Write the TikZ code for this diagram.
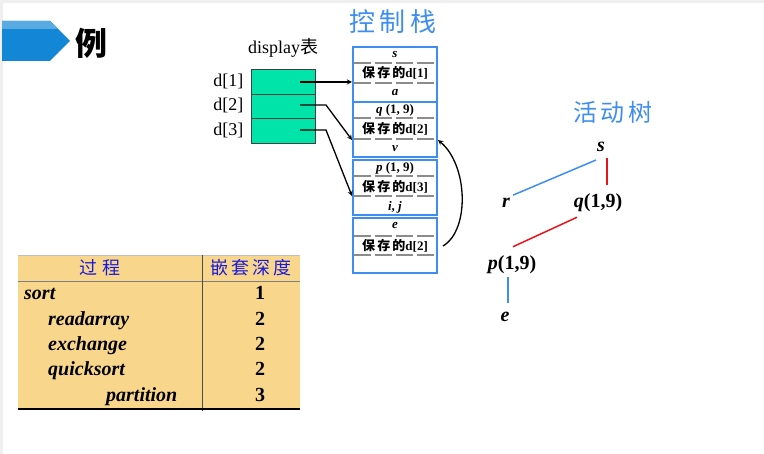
\documentclass[tikz,border=0pt]{standalone}
\usepackage{fontspec}
\setmainfont{Liberation Serif}
\newfontfamily\cjk{Noto Sans CJK SC}
\definecolor{pagegray}{HTML}{EFEFEF}
\definecolor{bannerblue}{HTML}{1387D6}
\definecolor{bannerlight}{HTML}{5AAAE2}
\definecolor{cellgreen}{HTML}{00E3A9}
\definecolor{stackblue}{HTML}{3D8EF0}
\definecolor{dashgray}{HTML}{8C8C8C}
\definecolor{treered}{HTML}{E8141B}
\definecolor{tableyellow}{HTML}{F8D78C}
\definecolor{headblue}{HTML}{1A1ADC}
\newcommand{\saved}[1]{{\cjk\bfseries 保\,存\,的}\textbf{d[#1]}}

\begin{document}
\begin{tikzpicture}[x=1pt,y=-1pt,
    cell/.style={draw=black!75,fill=cellgreen,minimum width=64,minimum height=24.5,inner sep=0},
    frame/.style={draw=stackblue,line width=2pt,minimum width=84,minimum height=55,inner sep=0},
    slot/.style={font=\fontsize{13}{15}\selectfont\bfseries,inner sep=0},
    sep/.style={dashgray,line width=1.6pt,dash pattern=on 17pt off 4pt},
    tree/.style={font=\fontsize{20}{22}\selectfont\bfseries,inner sep=0},
    row/.style={font=\fontsize{20}{22}\selectfont\bfseries\itshape,anchor=base west,inner sep=0},
    num/.style={font=\fontsize{20}{22}\selectfont\bfseries,anchor=base,inner sep=0},
    ptr/.style={line width=1.3pt,-stealth}]
\useasboundingbox (0,0) rectangle (764,454);
\fill[white] (0,0) rectangle (764,454);
\fill[pagegray] (0,0) rectangle (764,3);
\fill[pagegray] (0,3) rectangle (3,454);

% title banner
\fill[bannerblue] (2,21) -- (50,21) -- (70,41) -- (50,61) -- (2,61) -- cycle;
\fill[bannerlight] (2,21) -- (50,21) -- (58,29) -- (2,29) -- cycle;
\node (lizi) at (91,43) {\cjk\bfseries\fontsize{32}{34}\selectfont 例};

% display table
\node (disp) at (283,48) {\fontsize{18}{20}\selectfont display{\cjk 表}};
\node[cell] (c1) at (283,81.5) {};
\node[cell] (c2) at (283,106) {};
\node[cell] (c3) at (283,130.5) {};
\node[anchor=east] (d1) at (247,81) {\fontsize{18}{20}\selectfont d[1]};
\node[anchor=east] (d2) at (247,105) {\fontsize{18}{20}\selectfont d[2]};
\node[anchor=east] (d3) at (247,130) {\fontsize{18}{20}\selectfont d[3]};
\coordinate (a1) at (300,82);
\coordinate (a2) at (300,105);
\coordinate (b2) at (326,105);
\coordinate (a3) at (300,130);
\coordinate (b3) at (326,130);

% control stack
\node[text=stackblue] (kzz) at (393,22) {\cjk\fontsize{26}{28}\selectfont 控\,制\,栈};
\node[frame] (f1) at (395,74.5) {};
\node[frame] (f2) at (395,130) {};
\node[frame] (f3) at (395,187.5) {};
\node[frame] (f4) at (395,246) {};
\draw[sep] (354,63) -- (436,63);
\draw[sep] (354,83) -- (436,83);
\draw[sep] (354,118) -- (436,118);
\draw[sep] (354,139) -- (436,139);
\draw[sep] (354,176) -- (436,176);
\draw[sep] (354,196) -- (436,196);
\draw[sep] (354,236) -- (436,236);
\draw[sep] (354,255) -- (436,255);
\node[slot] (s1) at (395,55) {\textit{s}};
\node[slot] (s2) at (395,73) {\saved{1}};
\node[slot] (s3) at (395,93) {\textit{a}};
\node[slot] (q1) at (395,110) {\textit{q} (1, 9)};
\node[slot] (q2) at (395,129) {\saved{2}};
\node[slot] (q3) at (395,149) {\textit{v}};
\node[slot] (p1) at (395,168) {\textit{p} (1, 9)};
\node[slot] (p2) at (395,187) {\saved{3}};
\node[slot] (p3) at (395,207) {\textit{i}, \textit{j}};
\node[slot] (e1) at (395,226) {\textit{e}};
\node[slot] (e2) at (395,246) {\saved{2}};

\draw[ptr] (a1) -- (a1 -| f1.west);
\draw[ptr] (a2) -- (b2) -- ([yshift=-10pt]f2.west);
\draw[ptr] (a3) -- (b3) -- ([yshift=-8.5pt]f3.west);
\draw[ptr] ([xshift=5pt]f4.east) .. controls (470,230) and (468,165) .. ([yshift=-10pt]f2.east);

% activation tree
\node[text=stackblue] (hds) at (613,112) {\cjk\fontsize{24}{26}\selectfont 活\,动\,树};
\node[tree] (ts) at (601,147) {\textit{s}};
\node[tree] (tr) at (506,203) {\textit{r}};
\node[tree] (tq) at (598,203) {\textit{q}(1,9)};
\node[tree] (tp) at (512,265) {\textit{p}(1,9)};
\node[tree] (te) at (505,317) {\textit{e}};
\draw[stackblue,line width=1.5pt] ([xshift=-5pt,yshift=-8pt]ts.south) -- ([xshift=3pt,yshift=3pt]tr.north east);
\draw[treered,line width=1.5pt] ([xshift=6pt,yshift=-6pt]ts.south) -- ([xshift=9pt,yshift=9pt]tq.north);
\draw[treered,line width=1.5pt] ([xshift=-21pt,yshift=-5pt]tq.south) -- ([xshift=1pt,yshift=9pt]tp.north);
\draw[stackblue,line width=1.5pt] ([xshift=-4pt,yshift=-3pt]tp.south) -- ([xshift=3pt,yshift=9pt]te.north);

% nesting depth table
\fill[tableyellow] (18,255) rectangle (300,409);
\draw[gray!50,line width=0.6pt] (18,255) -- (300,255);
\draw[gray,line width=0.8pt] (18,281) -- (300,281);
\draw[black!70,line width=0.8pt] (202,255) -- (202,411);
\draw[black,line width=1.5pt] (18,409) -- (300,409);
\node[text=headblue] (hproc) at (100,268) {\cjk\fontsize{18}{20}\selectfont 过\,\,程};
\node[text=headblue] (hdepth) at (251,268) {\cjk\fontsize{18}{20}\selectfont 嵌\,套\,深\,度};
\node[row] (rsort) at (24,300) {sort};
\node[row] (rread) at (48,326) {readarray};
\node[row] (rexch) at (48,351) {exchange};
\node[row] (rquick) at (48,376) {quicksort};
\node[row] (rpart) at (106,402) {partition};
\node[num] (n1) at (260,300) {1};
\node[num] (n2) at (260,326) {2};
\node[num] (n3) at (260,351) {2};
\node[num] (n4) at (260,376) {2};
\node[num] (n5) at (260,402) {3};
\end{tikzpicture}
\end{document}
